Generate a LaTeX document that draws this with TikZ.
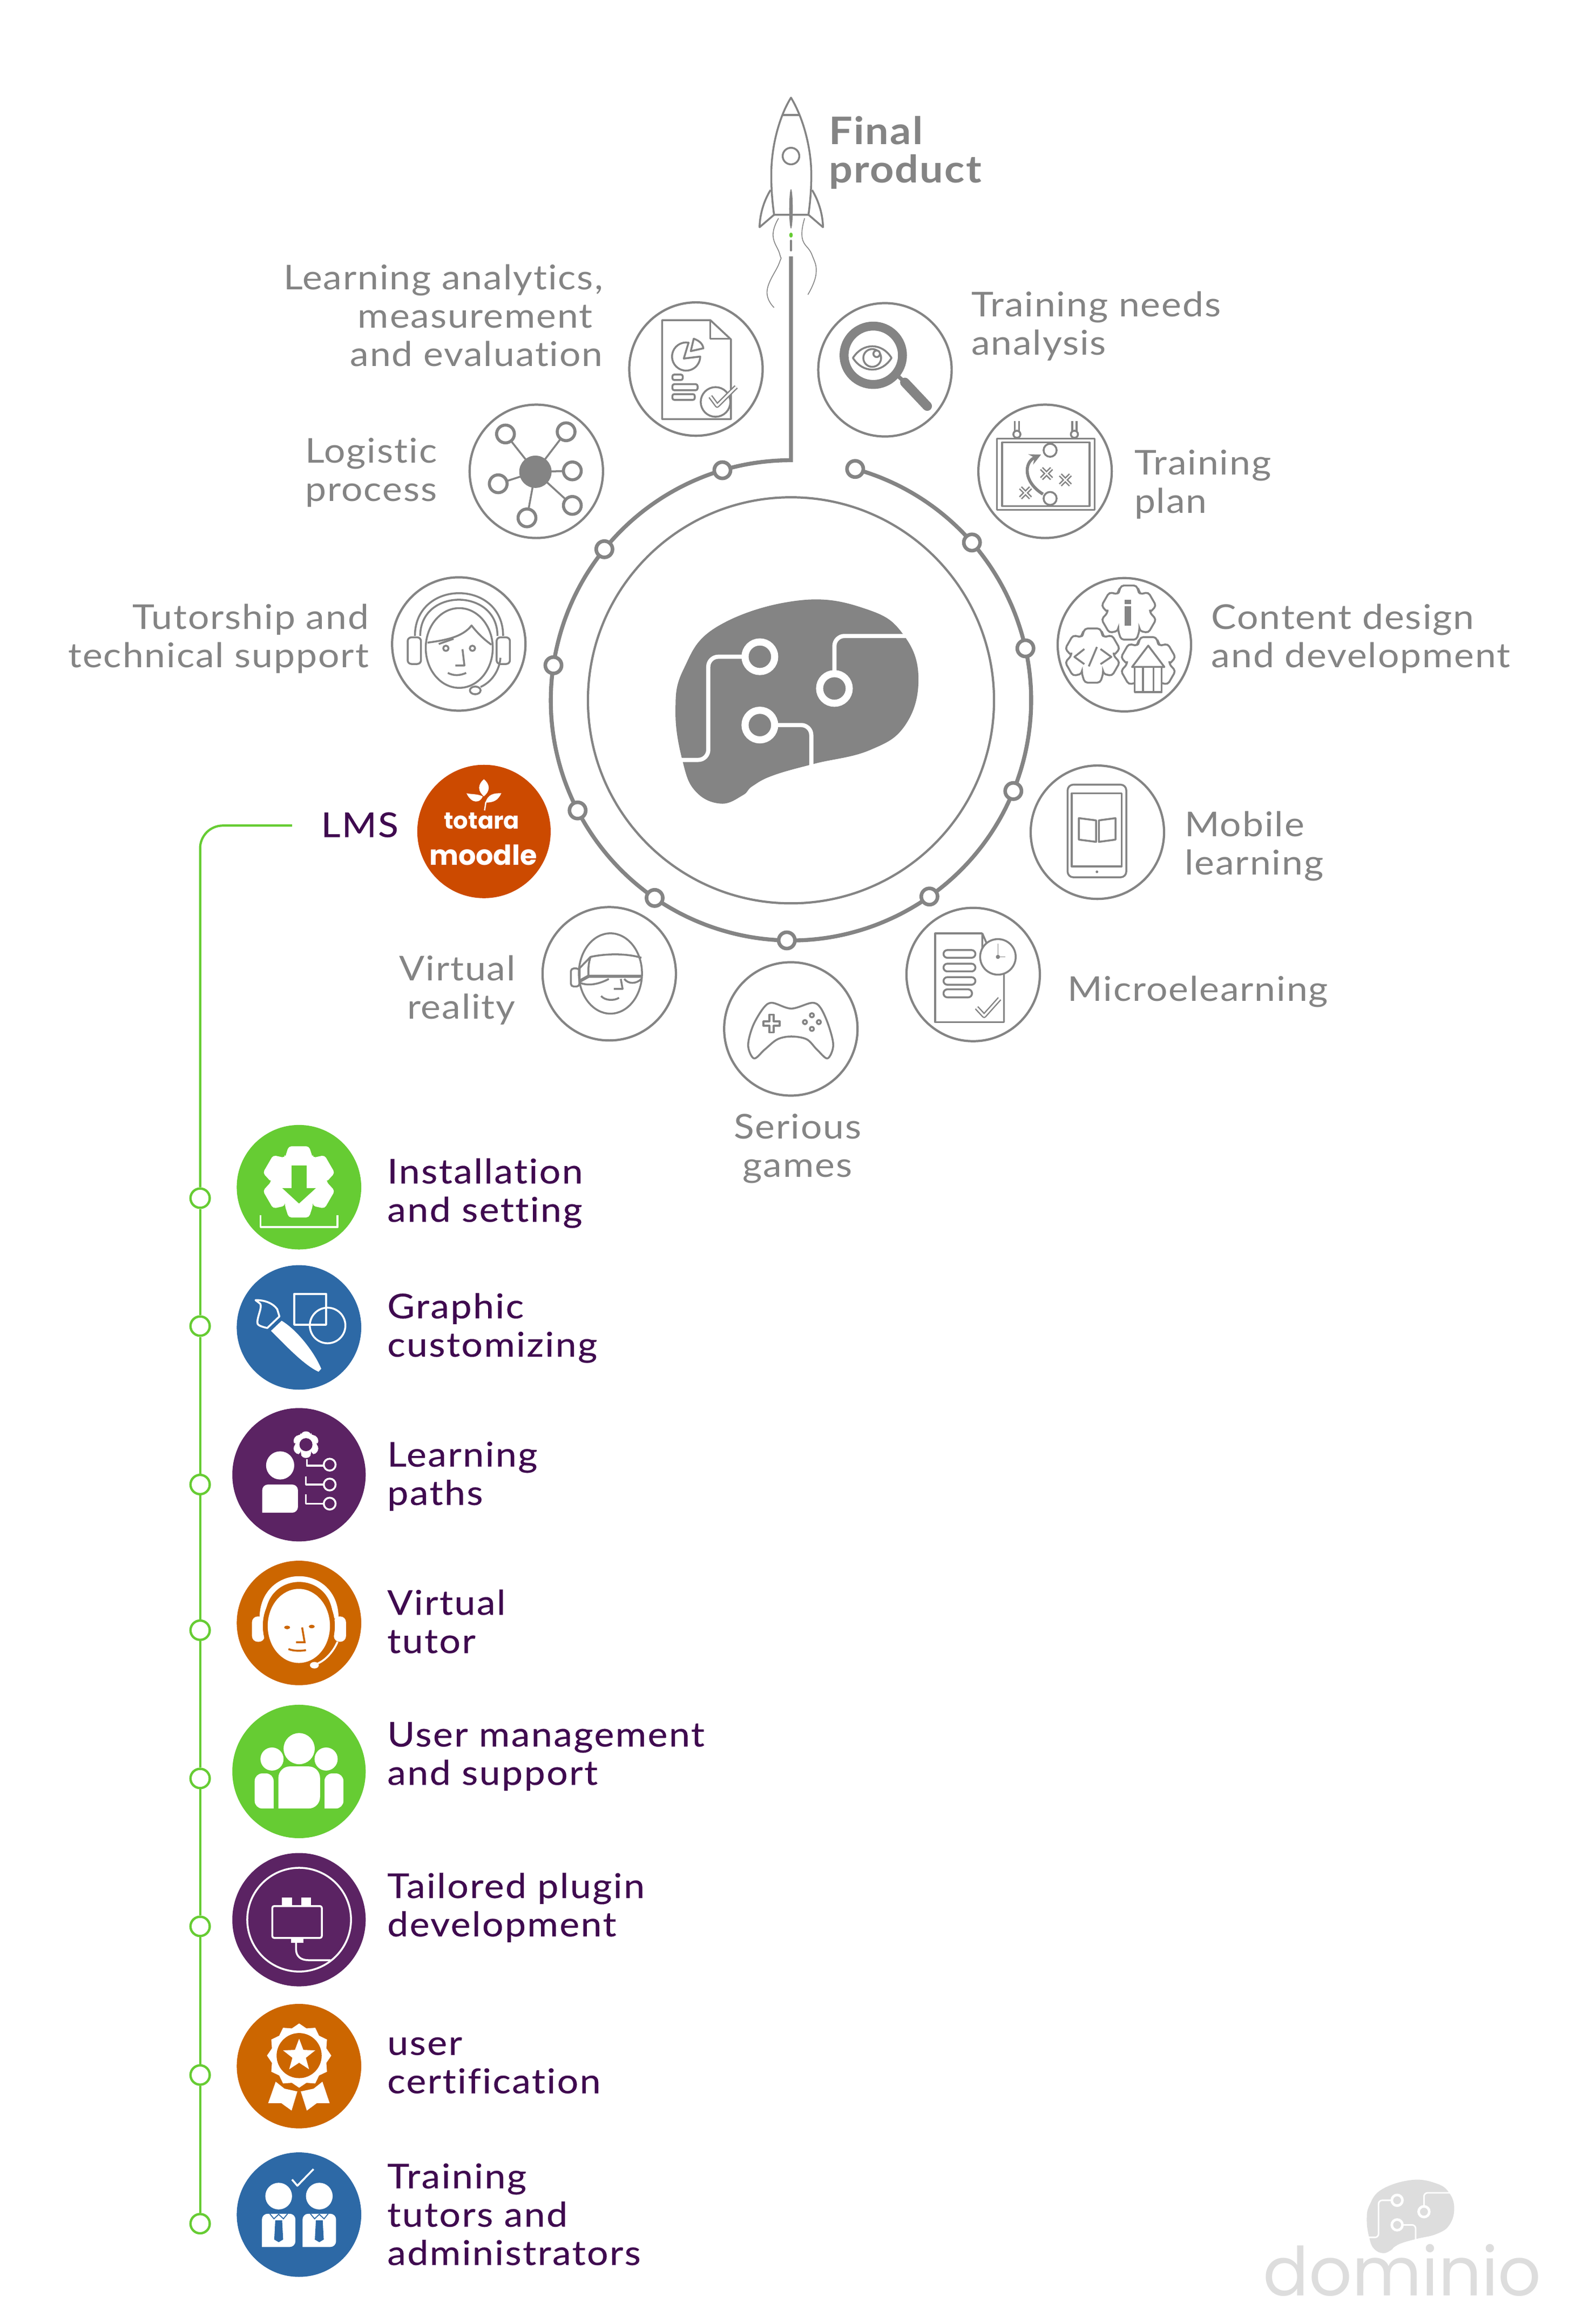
\documentclass[tikz,border=0pt]{standalone}
\usepackage{fontspec}
\setmainfont{Lato}[FakeStretch=1.1,LetterSpace=3,Ligatures=CommonOff]
\newfontfamily\listfont{Lato}[FakeStretch=1.1,LetterSpace=4,FakeBold=.3,Ligatures=CommonOff]
\newfontfamily\logofont{Poppins}
\usetikzlibrary{calc}

\definecolor{linegrey}{HTML}{848484}
\definecolor{listgreen}{HTML}{66CC33}
\definecolor{listblue}{HTML}{2D69A6}
\definecolor{listplum}{HTML}{5B2363}
\definecolor{listorange}{HTML}{CC6600}
\definecolor{lmsorange}{HTML}{CC4A00}
\definecolor{textplum}{HTML}{3F0A4F}
\definecolor{markgrey}{HTML}{DDDDDD}

\tikzset{
	disc/.style={circle,inner sep=0pt,minimum size=2.47cm},
	smalldisc/.style={circle,inner sep=0pt,minimum size=2.306cm},
	greydisc/.style={disc,draw=linegrey,line width=1.2pt,fill=white},
	ringdot/.style={circle,inner sep=0pt,minimum size=0.302cm,draw=linegrey,line width=1.9pt,fill=white},
	listdot/.style={circle,inner sep=0pt,minimum size=0.357cm,draw=listgreen,line width=1.25pt,fill=white},
	greylabel/.style={text=linegrey,inner sep=0pt,font=\fontsize{18}{20.2}\selectfont},
	listlabel/.style={text=textplum,inner sep=0pt,anchor=west,align=left,font=\listfont\fontsize{18}{20.2}\selectfont},
	icon/.style={draw=linegrey,line width=1pt,line join=round},
	thinicon/.style={draw=linegrey,line width=.45pt},
	dbl/.style={draw=linegrey,line width=.7pt,double=white,double distance=1pt,line join=round},
	whiteicon/.style={draw=white,line width=1pt,line join=round},
	pics/gearicon/.style={code={
		\path[pic actions,rounded corners=1.5pt] (60:.75) \foreach \a in {90,150,...,390} {-- (\a-30:.75) -- (\a-16:1) -- (\a+16:1) -- (\a+30:.75)} -- cycle;
	}},
	pics/brainlogo/.style 2 args={code={
		\begin{scope}[shift={(-537.6,-473.6)}]
			\fill[#1] plot[smooth cycle,tension=.7] coordinates {(540,405) (586,411.5) (610,429) (619.6,457.7) (610.7,489.2) (586.5,506.2) (549.3,515.3) (521.5,523.2) (507.5,530.5) (501,536.6) (486.2,542.2) (469.4,534.1) (460.7,514.4) (455.7,480.7) (461.1,451.6) (484.3,422.5)};
			\draw[white,line width=#2,rounded corners={2.4*#2}] (503,443.1) -- (477.8,443.1) -- (477.8,512.7) -- (450,512.7);
			\draw[white,line width=#2,rounded corners={2.4*#2}] (562.9,453) -- (562.9,429.1) -- (625,429.1);
			\draw[white,line width=#2,rounded corners={2.4*#2}] (523,489.2) -- (547.3,489.2) -- (547.3,520);
			\draw[white,line width={1.7*#2}] (512.6,443.1) circle (10);
			\draw[white,line width={1.7*#2}] (562.9,464.5) circle (10);
			\draw[white,line width={1.7*#2}] (512.6,489.2) circle (10);
		\end{scope}
	}}
}

\begin{document}
\begin{tikzpicture}[x=0.02745cm,y=-0.02745cm]
	\useasboundingbox (0,0) rectangle (1063,1568);

	\coordinate (ringcenter) at (533.6,472.5);
	\coordinate (rocketbase) at (533.6,173);
	\node[circle,inner sep=0pt,minimum size=7.52cm,draw=linegrey,line width=1.2pt] (innerring) at (ringcenter) {};
	\draw[linegrey,line width=2.1pt] ($(ringcenter)+(-74.5:162)$) arc[start angle=-74.5,end angle=270,radius=162] -- (rocketbase);
	\foreach \a/\n in {-74.5/dota,-41.1/dotb,-12.5/dotc,22.2/dotd,54.8/dote,91/dotf,124.6/dotg,152.7/doth,188.4/doti,219/dotj,253.4/dotk}
		\node[ringdot] (\n) at ($(ringcenter)+(\a:162)$) {};
	\pic at (537.6,473.6) {brainlogo={linegrey}{2.2pt}};

	% rocket
	\draw[linegrey,line width=1pt,line cap=round] (533.6,162.4) -- (533.6,169);
	\fill[listgreen] (533.6,158.6) ellipse (1.2 and 1.7);
	\draw[icon] (533.6,65.9) .. controls (526,78) and (520.3,98) .. (520.3,118) .. controls (520.3,128) and (521,136) .. (522.2,144.9) -- (545.4,144.9) .. controls (546.6,136) and (547.3,128) .. (547.3,118) .. controls (547.3,98) and (541,78) .. (533.6,65.9) -- cycle;
	\draw[icon] (527.5,77.6) -- (539.6,77.6);
	\draw[icon] (533.6,105.3) circle (5.6);
	\fill[linegrey] (533.6,140.9) ellipse (1.2 and 13.3);
	\draw[icon] (519.8,128.2) .. controls (515,136) and (512.6,145) .. (512.4,153.3) -- (522.2,144.9);
	\draw[icon] (547.8,128.2) .. controls (552.6,136) and (555,145) .. (555.2,153.3) -- (545.4,144.9);
	\draw[thinicon] plot[smooth,tension=.8] coordinates {(525.2,147.3) (521.5,158.8) (526.1,171.8) (525.7,177.4) (517.5,196) (522.2,207.5)};
	\draw[thinicon] plot[smooth,tension=.8] coordinates {(542.8,147.3) (541.2,160.7) (547.7,171.8) (550.5,184.8) (545,198.8)};
	\node[text=linegrey,inner sep=0pt,anchor=west,align=left,font=\fontsize{20}{20.2}\selectfont\bfseries] (finallabel) at (559,103) {Final\\product};

	% grey discs
	\node[greydisc] (analytics) at (469.5,249) {};
	\node[greydisc] (needs) at (597,249.5) {};
	\node[greydisc] (logistic) at (361.8,318) {};
	\node[greydisc] (plan) at (705,318) {};
	\node[greydisc] (tutorship) at (309.5,434.5) {};
	\node[greydisc] (content) at (758.5,435) {};
	\node[disc,fill=lmsorange] (lms) at (326.5,561) {};
	\node[greydisc] (mobile) at (740.3,561.5) {};
	\node[greydisc] (reality) at (411,657) {};
	\node[greydisc] (micro) at (656.5,657.5) {};
	\node[greydisc] (games) at (533.5,694.2) {};

	\node[greylabel,anchor=east,align=right] (analyticslabel) at (407,213) {Learning analytics,\\measurement\rule{5.5pt}{0pt}\\and evaluation};
	\node[greylabel,anchor=west,align=left] (needslabel) at (655,220) {Training needs\\analysis};
	\node[greylabel,anchor=east,align=right] (logisticlabel) at (295,319) {Logistic\\process};
	\node[greylabel,anchor=west,align=left] (planlabel) at (765,327) {Training\\plan};
	\node[greylabel,anchor=east,align=right] (tutorshiplabel) at (249,431) {Tutorship and\\technical support};
	\node[greylabel,anchor=west,align=left] (contentlabel) at (817,431) {Content design\\and development};
	\node[listlabel,anchor=east] (lmslabel) at (269,556.5) {LMS};
	\node[greylabel,anchor=west,align=left] (mobilelabel) at (799,571) {Mobile\\learning};
	\node[greylabel,anchor=east,align=right] (realitylabel) at (348,668) {Virtual\\reality};
	\node[greylabel,anchor=west] (microlabel) at (720,669) {Microelearning};
	\node[greylabel,align=center] (gameslabel) at (538,775) {Serious\\games};

	% analytics
	\draw[icon] (446.7,216) -- (479.2,216) -- (493.1,229) -- (493.1,282.8) -- (446.7,282.8) -- cycle;
	\draw[icon] (479.2,216) -- (479.2,228.5) -- (493.1,228.5);
	\draw[icon] (464.5,231.2) arc[start angle=-80,end angle=-360,radius=9.5] -- (461.3,241.9) -- cycle;
	\draw[icon] (468,228.5) .. controls (472,230) and (474,232) .. (474.5,235) -- (466,236.9) -- cycle;
	\draw[icon,rounded corners=1pt] (453.6,252.7) rectangle (460.6,256.4);
	\draw[icon,rounded corners=1pt] (453.6,259.2) rectangle (470.6,263.3);
	\draw[icon,rounded corners=1pt] (453.6,265.9) rectangle (468.7,269.8);
	\draw[icon,fill=white] (482.7,271.2) circle (10);
	\draw[dbl] (479.2,267.5) -- (483.8,273.7) -- (496.6,261);

	% needs
	\draw[linegrey,line width=4.7pt] (589.1,239.7) circle (19.7);
	\draw[linegrey,line width=2pt] (604,252) -- (610.4,258);
	\draw[linegrey,line width=5pt,line cap=round] (610.4,258) -- (625.5,274);
	\draw[icon] (575.4,241.5) .. controls (582,231) and (595,231) .. (601.4,241.5) .. controls (595,252) and (582,252) .. (575.4,241.5) -- cycle;
	\draw[icon] (588.4,241.5) circle (6);
	\draw[icon,fill=white] (591.4,238.7) circle (2.2);

	% logistic
	\fill[linegrey] (361.2,318.3) circle (10.9);
	\foreach \sx/\sy in {341/292.8,381.9/291.3,386.1/317.7,386.1/341,355.5/349.4,336.1/326.4} {
		\draw[linegrey,line width=1pt] (361.2,318.3) -- (\sx,\sy);
		\draw[linegrey,line width=1.6pt,fill=white] (\sx,\sy) circle (6);
	}

	% plan
	\draw[icon] (672.5,296) rectangle (738.5,344);
	\draw[icon] (676,298.5) rectangle (735,341.5);
	\foreach \hx in {686,724.8} {
		\draw[icon] (\hx-1.5,284) -- (\hx-1.5,292);
		\draw[icon] (\hx+1.5,284) -- (\hx+1.5,292);
		\draw[icon,fill=white] (\hx,293) circle (2.4);
	}
	\draw[icon] (708.4,303.8) circle (4.4);
	\draw[icon] (708.4,336.3) circle (4.4);
	\foreach \mx/\my in {706/319.5,718.7/323.8,691.8/332.5} {
		\draw[linegrey,line width=2.2pt] (\mx-3.4,\my-3.4) -- (\mx+3.4,\my+3.4);
		\draw[linegrey,line width=2.2pt] (\mx-3.4,\my+3.4) -- (\mx+3.4,\my-3.4);
		\draw[white,line width=.7pt] (\mx-3.4,\my-3.4) -- (\mx+3.4,\my+3.4);
		\draw[white,line width=.7pt] (\mx-3.4,\my+3.4) -- (\mx+3.4,\my-3.4);
	}
	\draw[linegrey,line width=1.6pt,->,>=stealth] (703.6,333.4) .. controls (690,325) and (691,312) .. (702.3,306.7);

	% content
	\pic[draw=linegrey,fill=white,line width=1pt,scale=19] at (737,442.3) {gearicon};
	\pic[draw=linegrey,fill=white,line width=1pt,scale=19] at (774.6,448.1) {gearicon};
	\pic[draw=linegrey,fill=white,line width=1pt,scale=19] at (761.5,413.3) {gearicon};
	\fill[linegrey] (758.8,404.6) rectangle (763,407.7);
	\fill[linegrey] (758.8,409) rectangle (763,422);
	\draw[icon] (731.5,437.9) -- (724.8,443.2) -- (731.5,448.1);
	\draw[icon] (740,436.5) -- (734.5,449.6);
	\draw[icon] (742.4,437.9) -- (749.7,443.2) -- (742.4,448.1);
	\draw[icon,fill=white] (763.7,450) -- (774.6,435.6) -- (785.5,450) -- cycle;
	\draw[icon,fill=white] (765.5,450) rectangle (783.7,467);
	\draw[icon] (771,450) -- (771,467);
	\draw[icon] (778.2,450) -- (778.2,467);

	% tutorship
	\draw[icon] (279.9,429) .. controls (280,390.6) and (339.4,390.6) .. (339.4,429);
	\draw[icon] (283.5,429) .. controls (283.5,396.5) and (335.6,396.5) .. (335.6,429);
	\draw[icon,rounded corners=2pt] (275,430) rectangle (284,448);
	\draw[icon,rounded corners=2pt] (335,430) rectangle (344,448);
	\draw[icon,fill=white] (309.8,437.2) ellipse (22.6 and 26.9);
	\draw[icon] (288.4,433.6) .. controls (300,432) and (312,430) .. (318.1,422) .. controls (322,427) and (326,431) .. (331.5,435);
	\draw[icon] (296,434.5) -- (306,431);
	\draw[icon] (300.8,437.4) circle (1.8);
	\draw[icon] (318.7,437.4) circle (1.8);
	\draw[icon] (312,438) -- (313.3,449) -- (307.2,449);
	\draw[icon] (302.1,454) .. controls (306,456) and (310,456) .. (314.5,454);
	\draw[icon] (324.2,463.5) .. controls (332,460) and (337,452) .. (337.6,443.8);
	\draw[icon,fill=white] (320.6,465.8) ellipse (3.6 and 2.6);

	% LMS logo
	\node[text=white,inner sep=0pt,font=\logofont\fontsize{12.3}{12.3}\selectfont\bfseries] (totara) at (325,554) {totara};
	\node[text=white,inner sep=0pt,font=\logofont\fontsize{14.5}{14.5}\selectfont\bfseries] (moodle) at (326,577) {moodle};
	\fill[white] (326.4,525.7) .. controls (328,527) and (329.7,529) .. (329.7,531.5) .. controls (329.7,534) and (328,536) .. (326.4,537.3) .. controls (325,536) and (323.2,534) .. (323.2,531.5) .. controls (323.2,529) and (325,527) .. (326.4,525.7) -- cycle;
	\fill[white] (314.7,535.2) .. controls (318,536) and (322,535.5) .. (325.7,537.3) .. controls (324,542) and (318,542.5) .. (314.7,535.2) -- cycle;
	\fill[white] (338.2,535.2) .. controls (333,535) and (329,536) .. (327.5,541.5) .. controls (333,541.5) and (336,540) .. (338.2,535.2) -- cycle;
	\draw[white,line width=.7pt] (327.8,541) -- (326.9,546.8);

	% mobile
	\draw[icon,rounded corners=3pt] (720.2,529.4) rectangle (759.8,591.9);
	\draw[icon] (723,535.2) rectangle (756.7,584.6);
	\fill[linegrey] (740,588.2) circle (.9);
	\draw[icon] (727.8,552) -- (739.4,553.5) -- (739.4,568) -- (727.8,566.5) -- cycle;
	\draw[icon] (741.3,553.5) -- (752.5,552) -- (752.5,566.5) -- (741.3,568) -- cycle;

	% micro
	\draw[icon] (662.7,629.8) -- (630.9,629.8) -- (630.9,689.6) -- (677.3,689.6) -- (677.3,650);
	\draw[icon] (662.7,629.8) -- (662.7,642) -- (668,642) -- cycle;
	\draw[icon,rounded corners=2pt] (636.5,641) rectangle (658,646.2);
	\draw[icon,rounded corners=2pt] (636.5,650.2) rectangle (658,655.4);
	\draw[icon,rounded corners=2pt] (636.5,659.3) rectangle (658,664.4);
	\draw[icon,rounded corners=2pt] (636.5,667.5) rectangle (655.7,672.9);
	\draw[icon,fill=white] (673.2,645.6) circle (12);
	\draw[thinicon] (673.2,636.8) -- (673.2,645.6) -- (678.3,645.6);
	\fill[linegrey] (673.2,645.6) circle (1.4);
	\draw[dbl] (658.8,679.9) -- (663.9,685.4) -- (674.3,673.8);

	% reality
	\draw[icon,rounded corners=1.5pt] (385.1,653.4) rectangle (390.9,665.6);
	\draw[icon,fill=white] (411.8,656.8) ellipse (21.3 and 27.1);
	\draw[icon] (391,661) -- (391,653.2) -- (398.4,645.6) .. controls (408,643.5) and (422,643) .. (432.7,646.2);
	\draw[icon] (398.4,645.6) .. controls (396.8,650) and (396.8,655) .. (397,658);
	\draw[linegrey,line width=1.7pt] (391,662) -- (397,658.7) -- (433.3,658.7);
	\draw[icon] (391,663) .. controls (397,665.5) and (404,664) .. (410.7,660.5);
	\draw[icon] (421.1,660.5) .. controls (424,664) and (429,664) .. (432.7,660.5);
	\draw[icon] (418.8,660.5) -- (420,667.2) -- (414.1,667.2);
	\draw[icon] (405.5,672) .. controls (408,675) and (414,675.5) .. (417.6,673.2);

	% games
	\draw[icon] plot[smooth cycle,tension=.55] coordinates {(508.7,714.1) (504.7,705.4) (508,692) (515.2,679.9) (521,676.6) (533.8,680.5) (547.7,676.6) (553.5,679.9) (559,692) (562.1,705.4) (558.2,714.1) (551,708) (544.2,701.2) (533.8,699.3) (524.5,701.2) (516,708)};
	\draw[icon] (519,684.6) -- (522,684.6) -- (522,689.1) -- (526,689.1) -- (526,692.1) -- (522,692.1) -- (522,696.6) -- (519,696.6) -- (519,692.1) -- (515,692.1) -- (515,689.1) -- (519,689.1) -- cycle;
	\foreach \bx/\by in {547.7/685,543/689.6,552.4/689.6,547.7/694.2}
		\draw[icon] (\bx,\by) circle (1.4);

	% list
	\coordinate (lmsend) at (197,557);
	\node[listdot] (dotinstall) at (135,808.4) {};
	\node[listdot] (dotgraphic) at (135,894.7) {};
	\node[listdot] (dotpaths) at (135,1001.6) {};
	\node[listdot] (dottutor) at (135,1099.9) {};
	\node[listdot] (dotuser) at (135,1199.9) {};
	\node[listdot] (dotplugin) at (135,1299.7) {};
	\node[listdot] (dotcert) at (135,1400) {};
	\node[listdot] (dottrain) at (135,1500.3) {};
	\draw[listgreen,line width=1.2pt,rounded corners=12pt] (lmsend) -| (dotinstall.north);
	\foreach \p/\q in {dotinstall/dotgraphic,dotgraphic/dotpaths,dotpaths/dottutor,dottutor/dotuser,dotuser/dotplugin,dotplugin/dotcert,dotcert/dottrain}
		\draw[listgreen,line width=1.2pt] (\p) -- (\q);

	\node[smalldisc,fill=listgreen] (install) at (201.7,801) {};
	\node[smalldisc,fill=listblue] (graphic) at (201.7,895.6) {};
	\node[disc,fill=listplum] (paths) at (201.7,995) {};
	\node[smalldisc,fill=listorange] (tutor) at (201.7,1095) {};
	\node[disc,fill=listgreen] (user) at (201.7,1195.2) {};
	\node[disc,fill=listplum] (plugin) at (201.7,1295.2) {};
	\node[smalldisc,fill=listorange] (cert) at (201.7,1394) {};
	\node[smalldisc,fill=listblue] (train) at (201.7,1494.2) {};

	\node[listlabel] (installlabel) at (261,805) {Installation\\and setting};
	\node[listlabel] (graphiclabel) at (261,896) {Graphic\\customizing};
	\node[listlabel] (pathslabel) at (261,996) {Learning\\paths};
	\node[listlabel] (tutorlabel) at (261,1094) {Virtual\\tutor};
	\node[listlabel] (userlabel) at (261,1185) {User management\\and support};
	\node[listlabel] (pluginlabel) at (261,1287) {Tailored plugin\\development};
	\node[listlabel] (certlabel) at (261,1393.5) {user\\certification};
	\node[listlabel] (trainlabel) at (261,1494) {Training\\tutors and\\administrators};

	% install
	\pic[fill=white,scale=25] at (201.6,797.4) {gearicon};
	\fill[listgreen] (196.7,786.5) rectangle (206.7,801.6);
	\fill[listgreen] (190.4,801.6) -- (213.1,801.6) -- (201.7,812) -- cycle;
	\draw[whiteicon] (175.8,819.9) -- (175.8,827.9) -- (227.7,827.9) -- (227.7,819.9);

	% graphic
	\fill[white] (182.8,897.9) -- (190,891.1) .. controls (200,897) and (212,912) .. (216.7,923.5) -- (214.9,925.5) .. controls (205,921) and (193,908) .. (182.8,897.9) -- cycle;
	\draw[whiteicon] (172.4,877.2) .. controls (178,877) and (184,879) .. (187,883.3) -- (188.5,888.2) -- (180.3,896) .. controls (176,895) and (173,894) .. (173.6,891.8) .. controls (174,887) and (177,882) .. (175.5,879.6) -- cycle;
	\draw[whiteicon] (198.5,873) rectangle (220,893.8);
	\draw[whiteicon] (221,894.3) circle (12);

	% paths
	\fill[white] (189,988.7) circle (9.5);
	\fill[white,rounded corners=3pt] (176.9,1020.6) -- (176.9,1001.6) -- (201,1001.6) -- (201,1020.6) [sharp corners] -- cycle;
	\pic[fill=white,scale=9.3] at (206.4,974.7) {gearicon};
	\fill[listplum] (206.4,974.7) circle (4.4);
	\draw[whiteicon] (207,984.5) -- (207,988.9) -- (218.4,988.9);
	\draw[whiteicon] (222.4,988.2) circle (4);
	\draw[whiteicon] (206.4,996) -- (206.4,1001.6) -- (218.4,1001.6);
	\draw[whiteicon] (222.4,1001.6) circle (4);
	\draw[whiteicon] (206.4,1008.2) -- (206.4,1014.5) -- (218.4,1014.5);
	\draw[whiteicon] (222.4,1014.5) circle (4);

	% tutor
	\fill[white,rounded corners=3pt] (170,1090.6) rectangle (178.5,1107.7);
	\fill[white,rounded corners=3pt] (225.2,1090.6) rectangle (233.4,1107.7);
	\draw[white,line width=3pt] (177,1092) .. controls (177,1056.5) and (226.5,1056.5) .. (226.5,1092);
	\draw[listorange,line width=2pt] (201.6,1097) ellipse (23 and 27);
	\fill[white] (201.6,1097) ellipse (21 and 25);
	\fill[listorange] (193.7,1098) ellipse (2 and 1.2);
	\fill[listorange] (210.3,1097.4) ellipse (2 and 1.2);
	\draw[listorange,line width=1pt] (203.8,1098) -- (205.5,1108) -- (199.7,1108);
	\draw[listorange,line width=1pt] (194.6,1112.6) .. controls (198,1114) and (203,1114) .. (206.4,1113.3);
	\draw[white,line width=1pt] (214,1122.5) .. controls (220,1120) and (225,1114) .. (227.7,1107.7);
	\fill[white] (212.1,1123.5) ellipse (3 and 2.2);

	% user
	\fill[white] (201.8,1179.8) circle (10.5);
	\fill[white,rounded corners=6pt] (187.8,1220.2) -- (187.8,1191.8) -- (215.9,1191.8) -- (215.9,1220.2) [sharp corners] -- cycle;
	\fill[white] (183.5,1186.8) circle (7.8);
	\fill[white] (220,1186.8) circle (7.8);
	\fill[white,rounded corners=4pt] (184.6,1220.2) -- (171.8,1220.2) -- (171.8,1196.5) -- (184.6,1196.5) [sharp corners] -- cycle;
	\fill[white,rounded corners=4pt] (218.9,1220.2) -- (231.7,1220.2) -- (231.7,1196.5) -- (218.9,1196.5) [sharp corners] -- cycle;

	% plugin
	\draw[whiteicon] (201.8,1295.2) circle (35);
	\draw[whiteicon,rounded corners=1pt] (183.7,1286) rectangle (217.1,1307.5);
	\fill[white] (190.3,1280.4) rectangle (197,1286);
	\fill[white] (203.1,1280.4) rectangle (209.8,1286);
	\fill[white] (196.3,1307.5) rectangle (204.6,1310.8);
	\draw[whiteicon] (199.7,1310.8) -- (199.7,1315) .. controls (199.7,1320) and (203,1322.5) .. (208,1322.5) -- (223,1322.5);

	% cert
	\begin{scope}[shift={(201.8,1386.9)}]
		\fill[white] (0:21.7) \foreach \a in {15,45,...,345} {-- (\a:19) -- (\a+15:21.7)} -- cycle;
		\fill[listorange] (0,0) circle (15.2);
		\fill[white] (-90:11.4) \foreach \a in {-54,18,90,162,234} {-- (\a:4.8) -- (\a+36:11.4)} -- cycle;
	\end{scope}
	\fill[white] (186,1404.5) -- (180.9,1419) -- (189.8,1419) -- (196.7,1424) -- (200.6,1411.1) -- (191.9,1409.2) -- cycle;
	\fill[white] (217.5,1404.5) -- (222.4,1419) -- (213.7,1419) -- (207,1424) -- (202.9,1411.1) -- (211.6,1409.2) -- cycle;

	% train
	\foreach \tx in {188,215.4} {
		\fill[white] (\tx,1481.7) circle (9);
		\fill[white,rounded corners=3pt] (\tx-11.3,1516) -- (\tx-11.3,1493.6) -- (\tx+11.3,1493.6) -- (\tx+11.3,1516) [sharp corners] -- cycle;
		\fill[listblue] (\tx-2.3,1498) -- (\tx+2.3,1498) -- (\tx+3,1511) -- (\tx,1512.8) -- (\tx-3,1511) -- cycle;
		\draw[listblue,line width=.5pt] (\tx-6,1493.6) -- (\tx-3.2,1497) -- (\tx,1494) -- (\tx+3.2,1497) -- (\tx+6,1493.6);
	}
	\draw[whiteicon] (197,1470.5) -- (200.6,1474.7) -- (211.5,1463.5);

	% watermark
	\pic[scale=.36] at (951.5,1495.5) {brainlogo={markgrey}{.8pt}};
	\node[text=markgrey,inner sep=0pt,anchor=base,font=\logofont\fontsize{35.6}{35.6}\selectfont] (wordmark) at (946,1548.7) {dominio};
\end{tikzpicture}
\end{document}
